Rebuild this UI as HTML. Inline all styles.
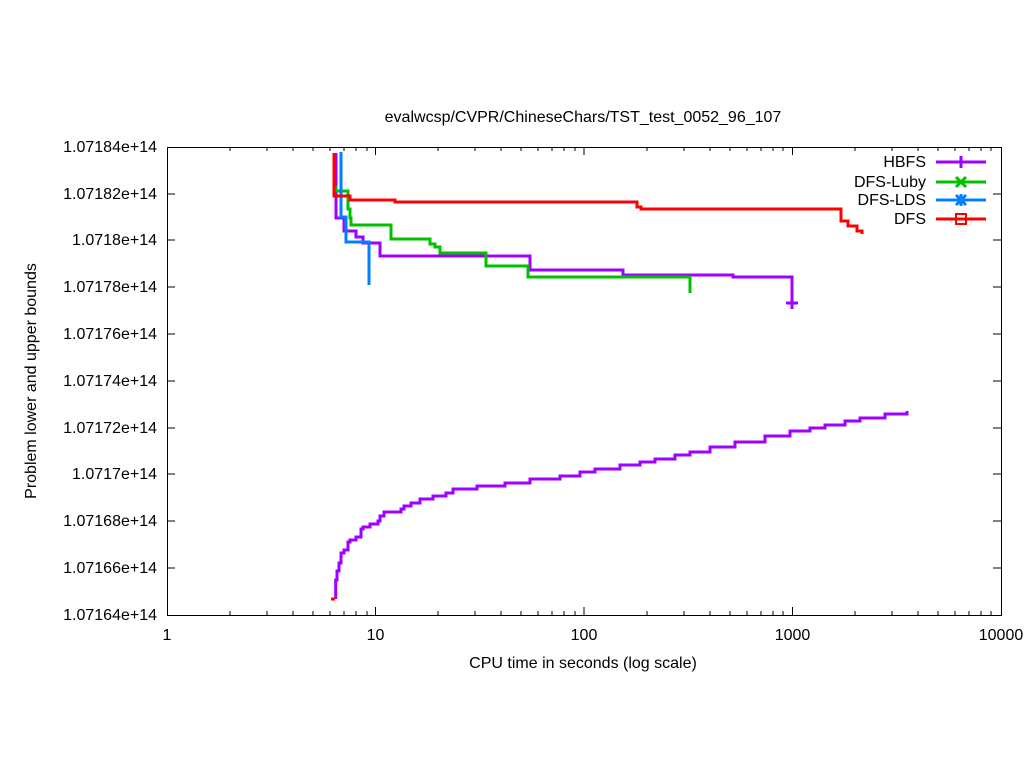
<!DOCTYPE html>
<html><head><style>body{margin:0;background:#fff}svg{display:block}text{font-family:"Liberation Sans",sans-serif;font-size:16px;fill:#000}</style></head><body>
<svg width="1024" height="768" xmlns="http://www.w3.org/2000/svg">
<text x="583" y="122" text-anchor="middle">evalwcsp/CVPR/ChineseChars/TST_test_0052_96_107</text>
<g stroke="#000" stroke-width="1" fill="none">
<rect x="167.5" y="147.5" width="834" height="468"/>
<path d="M167 194h8M1001 194h-8M167 240h8M1001 240h-8M167 287h8M1001 287h-8M167 334h8M1001 334h-8M167 381h8M1001 381h-8M167 428h8M1001 428h-8M167 474h8M1001 474h-8M167 521h8M1001 521h-8M167 568h8M1001 568h-8"/>
<path d="M375.5 615v-8M375.5 147v8M584 615v-8M584 147v8M792.5 615v-8M792.5 147v8
M230 615v-4M267 615v-4M293 615v-4M313 615v-4M330 615v-4M344 615v-4M356 615v-4M367 615v-4
M438 615v-4M475 615v-4M501 615v-4M521 615v-4M538 615v-4M552 615v-4M564 615v-4M575 615v-4
M647 615v-4M684 615v-4M710 615v-4M730 615v-4M747 615v-4M761 615v-4M773 615v-4M783 615v-4
M855 615v-4M892 615v-4M918 615v-4M938 615v-4M955 615v-4M969 615v-4M981 615v-4M991 615v-4
M230 147v4M267 147v4M293 147v4M313 147v4M330 147v4M344 147v4M356 147v4M367 147v4
M438 147v4M475 147v4M501 147v4M521 147v4M538 147v4M552 147v4M564 147v4M575 147v4
M647 147v4M684 147v4M710 147v4M730 147v4M747 147v4M761 147v4M773 147v4M783 147v4
M855 147v4M892 147v4M918 147v4M938 147v4M955 147v4M969 147v4M981 147v4M991 147v4"/>
</g>
<g text-anchor="end">
<text x="157" y="152">1.07184e+14</text><text x="157" y="199">1.07182e+14</text><text x="157" y="245">1.0718e+14</text><text x="157" y="292">1.07178e+14</text><text x="157" y="339">1.07176e+14</text><text x="157" y="386">1.07174e+14</text><text x="157" y="433">1.07172e+14</text><text x="157" y="479">1.0717e+14</text><text x="157" y="526">1.07168e+14</text><text x="157" y="573">1.07166e+14</text><text x="157" y="620">1.07164e+14</text>
</g>
<g text-anchor="middle">
<text x="167" y="640">1</text><text x="375.5" y="640">10</text><text x="584" y="640">100</text><text x="792.5" y="640">1000</text><text x="1001" y="640">10000</text>
<text x="583" y="668">CPU time in seconds (log scale)</text>
</g>
<text transform="translate(36,381) rotate(-90)" text-anchor="middle">Problem lower and upper bounds</text>
<g fill="none" stroke-width="3">
<path stroke="#a000ff" d="M336 153V218H344V231H356V237H363V243H380V256H530V270H623V275H733V277H792V303"/>
<path stroke="#a000ff" d="M335.7 599V580H337V571H339V563H341V553H344V550H348V542H350V540H356V537H361V529H363V527H370V524H378V521H380V516H384V512H401V509H404V506H411V503H420V499H433V496H446V493H453V489H477V486H505V483H530V479H560V476H580V472H595V469H620V465H640V462H655V459H675V455H690V452H710V447H735V442H765V436H790V431H810V428H825V425H845V421H860V418H885V414H907V411"/>
<path stroke="#00c000" d="M336 186V191H348V209H350V218H351V225H391V239H430V244H435V247H440V253H486V266H528V277H690V293"/>
<path stroke="#0080ff" d="M341 152V217H346V242H369V285"/>
<path stroke="#ff0000" d="M334 153V196H350V200H395V202H637V207H641V209H841V221H848V226H857V231H862V234"/>
<path stroke="#ff0000" d="M331 599h4"/>
<path stroke="#a000ff" d="M786 303h12M792 297v12"/>
</g>
<g text-anchor="end">
<text x="926" y="167">HBFS</text><text x="926" y="187">DFS-Luby</text><text x="926" y="205">DFS-LDS</text><text x="926" y="224">DFS</text>
</g>
<g fill="none" stroke-width="3">
<path stroke="#a000ff" d="M936 162h50M961 156v12"/>
<path stroke="#00c000" d="M936 182h50M956 177l10 10M966 177l-10 10"/>
<path stroke="#0080ff" d="M936 200h50M956 195l10 10M966 195l-10 10M961 194v12"/>
<path stroke="#ff0000" d="M936 219h50"/>
<rect x="956" y="214" width="10" height="10" stroke="#ff0000" stroke-width="2"/>
</g>
</svg>
</body></html>
